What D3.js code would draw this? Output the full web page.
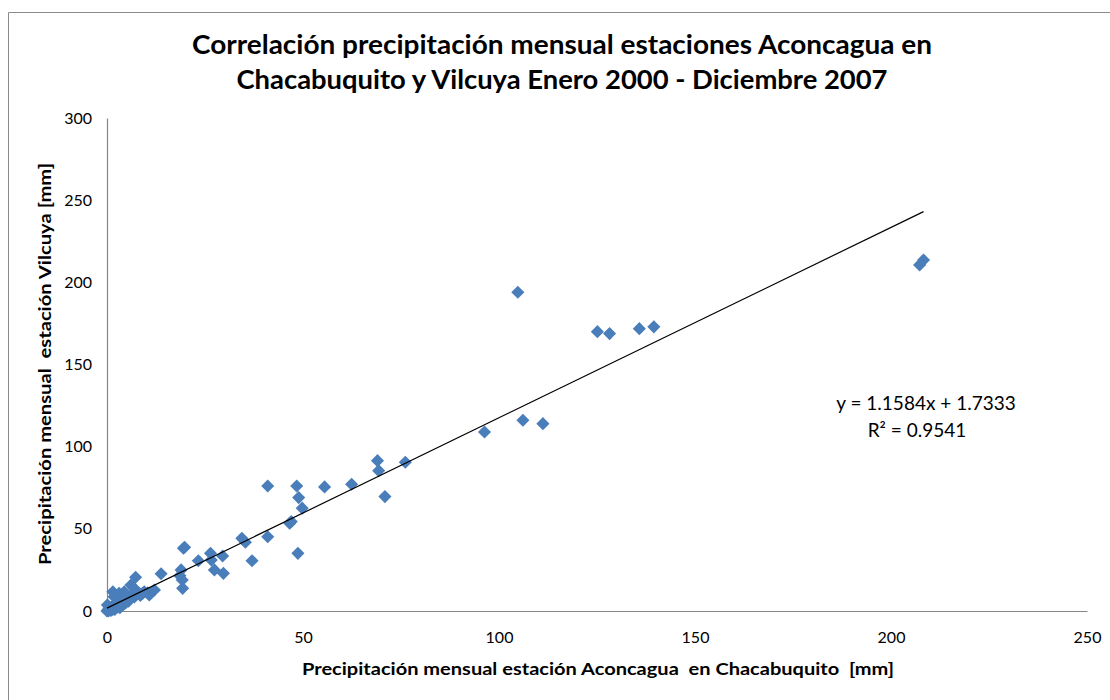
<!DOCTYPE html>
<html>
<head>
<meta charset="utf-8">
<script src="https://cdn.jsdelivr.net/npm/d3@7"></script>
<style>
  body { margin: 0; background: #fff; }
  text { font-family: Lato, "Open Sans", sans-serif; fill: #000; }
</style>
</head>
<body>
<div id="chart"></div>
<script>
// Aconcagua en Chacabuquito (x) vs Vilcuya (y), mm
var chacabuquito = [
    104.8, 125.1, 128.2, 135.8, 139.5, 207.3, 208.3, 96.3, 106.1, 111.2,
    41.0, 48.4, 48.9, 49.8, 55.5, 62.4, 69.0, 69.3, 76.1, 70.9,
    46.6, 47.0, 41.0, 34.4, 35.3, 37.0, 48.7, 19.5, 19.8, 23.3,
    26.4, 26.6, 27.4, 29.5, 29.7, 18.9, 19.2, 19.3, 18.6, 13.8,
    7.3, 6.1, 6.9, 1.5, 1.8, 3.1, 4.4, 9.5, 10.8, 12.1,
    10.4, 0.0, 0.2, 0.5, 0.1, 0.8, 1.0, 1.5, 2.0, 2.3,
    2.8, 3.0, 3.5, 4.0, 4.2, 4.8, 5.0, 5.5, 6.0, 6.4,
    7.0, 7.5, 8.0, 8.5, 9.0, 0.3, 1.2, 2.5, 3.8, 5.2,
    5.3, 0.6, 1.7, 3.3
]
var vilcuya = [
    194.0, 170.0, 168.8, 171.8, 172.9, 210.6, 213.6, 108.9, 116.1, 114.0,
    76.1, 76.1, 69.0, 62.6, 75.5, 77.1, 91.5, 85.4, 90.5, 69.6,
    53.4, 54.4, 45.2, 44.2, 41.8, 30.6, 35.1, 38.2, 38.8, 30.6,
    35.1, 31.0, 25.0, 33.5, 22.9, 25.0, 18.9, 13.8, 21.5, 22.7,
    20.5, 15.8, 13.8, 11.7, 8.7, 10.8, 11.7, 11.7, 9.7, 12.8,
    11.0, 0.0, 0.5, 1.6, 3.7, 0.3, 2.2, 3.0, 1.0, 4.2,
    2.5, 3.8, 5.2, 6.2, 4.0, 5.0, 7.2, 6.0, 8.0, 9.2,
    8.6, 10.0, 11.2, 9.5, 10.6, 0.1, 0.5, 5.5, 7.5, 8.8,
    8.7, 0.9, 1.2, 2.0
]
var xTicks = [0, 50, 100, 150, 200, 250]
var yTicks = [0, 50, 100, 150, 200, 250, 300]
var slope = 1.1584
var intercept = 1.7333
var equationText = "y = 1.1584x + 1.7333"
var r2Text = "R² = 0.9541"

var titleLines = [
    "Correlación precipitación mensual estaciones Aconcagua en",
    "Chacabuquito y Vilcuya Enero 2000 - Diciembre 2007"
]
var xTitle = "Precipitación mensual estación Aconcagua  en Chacabuquito  [mm]"
var yTitle = "Precipitación mensual  estación Vilcuya [mm]"

var width = 1110
var height = 700
// plot area edges (note: "top" is reserved on window, so use own names)
var plotLeft = 107, plotRight = 1087, plotTop = 118, plotBottom = 611

var svg = d3.select("#chart")
    .append("svg")
    .attr("width", width)
    .attr("height", height)

// chart area border (only top and left are inside the picture)
svg.append("path")
    .attr("d", "M8.5,700 L8.5,12.5 L1110,12.5")
    .attr("fill", "none")
    .attr("stroke", "#8a8a8a")
    .attr("stroke-width", 1)

var x = d3.scaleLinear().domain([0, 250]).range([plotLeft, plotRight])
var y = d3.scaleLinear().domain([0, 300]).range([plotBottom, plotTop])

// axes without tick marks
svg.append("g")
    .attr("transform", "translate(0," + plotBottom + ")")
    .call(d3.axisBottom(x).tickValues(xTicks).tickSize(0).tickPadding(21).tickFormat(d3.format("d")))
svg.append("g")
    .attr("transform", "translate(" + plotLeft + ",0)")
    .call(d3.axisLeft(y).tickValues(yTicks).tickSize(0).tickPadding(15).tickFormat(d3.format("d")))

svg.selectAll(".domain").attr("stroke", "#868686").attr("stroke-width", 1.2)
svg.selectAll(".tick text")
    .style("font-size", "16px")
    .style("font-family", "Lato, sans-serif")
    .attr("fill", "#000")

// points
var points = chacabuquito.map(function(d, i) { return { x: d, y: vilcuya[i] } })
var diamond = d3.symbol().type(d3.symbolSquare).size(86)

svg.append("g")
    .selectAll("path")
    .data(points)
    .enter()
    .append("path")
    .attr("d", diamond)
    .attr("transform", function(d) { return "translate(" + x(d.x) + "," + y(d.y) + ") rotate(45)" })
    .attr("fill", "#4a7ebb")

// linear trendline over the x range of the data
var xMin = d3.min(chacabuquito), xMax = d3.max(chacabuquito)
svg.append("line")
    .attr("x1", x(xMin))
    .attr("y1", y(slope * xMin + intercept))
    .attr("x2", x(xMax))
    .attr("y2", y(slope * xMax + intercept))
    .attr("stroke", "#000")
    .attr("stroke-width", 1.2)

svg.append("text")
    .attr("x", 926).attr("y", 410)
    .attr("text-anchor", "middle")
    .style("font-size", "19px")
    .text(equationText)
svg.append("text")
    .attr("x", 917).attr("y", 437)
    .attr("text-anchor", "middle")
    .style("font-size", "19px")
    .text(r2Text)

// titles
var titleWidths = [740, 651]
titleLines.forEach(function(t, i) {
    svg.append("text")
        .attr("x", 562)
        .attr("y", 54 + i * 35)
        .attr("text-anchor", "middle")
        .attr("textLength", titleWidths[i])
        .attr("lengthAdjust", "spacingAndGlyphs")
        .style("font-size", "26px")
        .style("font-weight", "bold")
        .text(t)
})

svg.append("text")
    .attr("x", 598)
    .attr("y", 675)
    .attr("text-anchor", "middle")
    .attr("textLength", 592)
    .attr("lengthAdjust", "spacingAndGlyphs")
    .attr("xml:space", "preserve")
    .style("white-space", "pre")
    .style("font-size", "17px")
    .style("font-weight", "bold")
    .text(xTitle)

svg.append("text")
    .attr("transform", "translate(51,364) rotate(-90)")
    .attr("text-anchor", "middle")
    .attr("textLength", 402)
    .attr("lengthAdjust", "spacingAndGlyphs")
    .attr("xml:space", "preserve")
    .style("white-space", "pre")
    .style("font-size", "17px")
    .style("font-weight", "bold")
    .text(yTitle)
</script>
</body>
</html>
